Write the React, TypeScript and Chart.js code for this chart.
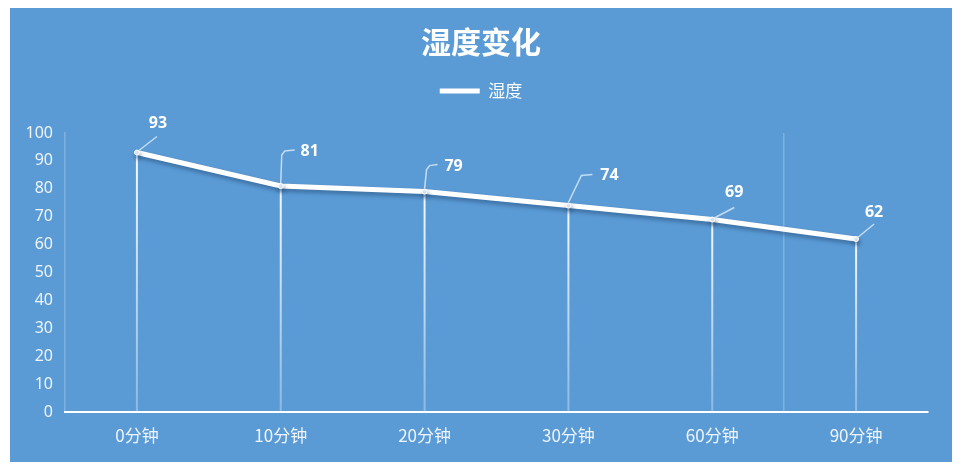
import { useEffect, useRef } from "react";
import { Chart, registerables, Plugin } from "chart.js";

Chart.register(...registerables);

// 数据
const categories: string[] = ["0分钟", "10分钟", "20分钟", "30分钟", "60分钟", "90分钟"];
const humidity: number[] = [93, 81, 79, 74, 69, 62];
const yTicks: number[] = [0, 10, 20, 30, 40, 50, 60, 70, 80, 90, 100];

const BG = "#5b9bd5";

// 数据标签相对数据点的偏移（像素）
const labelOffsets: [number, number][] = [
    [21, -29], [29, -35], [29, -25], [41, -30], [22, -27], [18, -27],
];
// 引导线折点（相对数据点）
const leaders: [number, number][][] = [
    [[2, -2], [20, -16]],
    [[0, -3], [1, -31], [4, -35], [14, -36]],
    [[0, -3], [2, -22], [5, -26], [13, -27]],
    [[0, -3], [13, -30], [24, -31]],
    [[1, -1], [22, -12]],
    [[1, -1], [18, -15]],
];

const decorPlugin: Plugin<"line"> = {
    id: "decor",
    beforeDatasetsDraw(chart) {
        const { ctx, chartArea } = chart;
        const meta = chart.getDatasetMeta(0);
        ctx.save();
        // 垂直线（数据点到横轴）
        meta.data.forEach((pt) => {
            const g = ctx.createLinearGradient(0, pt.y, 0, chartArea.bottom);
            g.addColorStop(0, "rgba(255,255,255,0.95)");
            g.addColorStop(1, "rgba(255,255,255,0.3)");
            ctx.strokeStyle = g;
            ctx.lineWidth = 2;
            ctx.beginPath();
            ctx.moveTo(pt.x, pt.y);
            ctx.lineTo(pt.x, chartArea.bottom);
            ctx.stroke();
        });
        ctx.restore();
        // 折线阴影
        ctx.save();
        ctx.shadowColor = "rgba(20,50,90,0.45)";
        ctx.shadowBlur = 4;
        ctx.shadowOffsetX = 1;
        ctx.shadowOffsetY = 3;
    },
    afterDatasetsDraw(chart) {
        const { ctx } = chart;
        ctx.restore();
        const meta = chart.getDatasetMeta(0);
        ctx.save();
        ctx.strokeStyle = "rgba(215,232,250,0.85)";
        ctx.lineWidth = 1.5;
        meta.data.forEach((pt, i) => {
            const path = leaders[i];
            ctx.beginPath();
            path.forEach(([dx, dy], k) => {
                if (k === 0) ctx.moveTo(pt.x + dx, pt.y + dy);
                else ctx.lineTo(pt.x + dx, pt.y + dy);
            });
            ctx.stroke();
        });
        ctx.fillStyle = "#ffffff";
        ctx.font = "bold 16px 'Open Sans'";
        ctx.textAlign = "center";
        ctx.textBaseline = "middle";
        meta.data.forEach((pt, i) => {
            const [dx, dy] = labelOffsets[i];
            ctx.fillText(String(humidity[i]), pt.x + dx, pt.y + dy);
        });
        ctx.restore();
    },
};

export default function App() {
    const canvasRef = useRef<HTMLCanvasElement | null>(null);

    useEffect(() => {
        const canvas = canvasRef.current;
        if (!canvas) return;
        Chart.defaults.font.family = "'Noto Sans', 'Noto Sans CJK SC', sans-serif";

        const chart = new Chart(canvas, {
            type: "line",
            data: {
                labels: categories,
                datasets: [
                    {
                        label: "湿度",
                        data: humidity,
                        borderColor: "#ffffff",
                        backgroundColor: "#ffffff",
                        borderWidth: 5,
                        tension: 0,
                        pointRadius: 2.5,
                        pointBackgroundColor: "#e6f0fa",
                        pointBorderColor: "#ffffff",
                        pointBorderWidth: 1,
                    },
                ],
            },
            options: {
                animation: false,
                responsive: true,
                maintainAspectRatio: false,
                layout: { padding: 0 },
                plugins: {
                    title: {
                        display: true,
                        text: "湿度变化",
                        color: "#ffffff",
                        font: { size: 30, weight: "bold", family: "'Noto Sans CJK SC'" },
                        padding: { top: 16, bottom: 12.5 },
                    },
                    legend: {
                        display: true,
                        labels: {
                            color: "#ffffff",
                            font: { size: 17, family: "'Noto Sans CJK SC'" },
                            boxWidth: 40,
                            boxHeight: 5,
                            padding: 10,
                            generateLabels: () => [
                                {
                                    text: "湿度",
                                    fillStyle: "#ffffff",
                                    strokeStyle: "#ffffff",
                                    lineWidth: 0,
                                    fontColor: "#ffffff",
                                    datasetIndex: 0,
                                },
                            ],
                        },
                    },
                    subtitle: {
                        display: true,
                        text: " ",
                        weight: 500,
                        font: { size: 10 },
                        padding: { top: 11.5, bottom: 0 },
                    } as any,
                    tooltip: { enabled: false },
                },
                scales: {
                    x: {
                        offset: true,
                        afterFit: (s) => {
                            s.height = 50;
                        },
                        grid: {
                            offset: true,
                            drawTicks: false,
                            color: (c) =>
                                c.index === 5 ? "rgba(255,255,255,0.22)" : "rgba(0,0,0,0)",
                            lineWidth: 1.5,
                        },
                        border: { display: true, color: "#ffffff", width: 2 },
                        ticks: {
                            color: "#eef4fb",
                            font: { size: 17, family: "'Noto Sans CJK SC'" },
                            padding: 13,
                        },
                    },
                    y: {
                        min: 0,
                        max: 100,
                        afterFit: (s) => {
                            s.width = 55;
                        },
                        afterBuildTicks: (s) => {
                            s.ticks = yTicks.map((v) => ({ value: v }));
                        },
                        grid: { display: false, drawTicks: false },
                        border: { display: true, color: "rgba(255,255,255,0.22)", width: 1.5 },
                        ticks: {
                            color: "#eef4fb",
                            font: { size: 16 },
                            padding: 12,
                        },
                    },
                    // 右侧留白
                    yRight: {
                        position: "right",
                        min: 0,
                        max: 100,
                        afterFit: (s) => {
                            s.width = 24;
                        },
                        grid: { display: false, drawTicks: false },
                        border: { display: false },
                        ticks: { display: false },
                    },
                },
            },
            plugins: [decorPlugin],
        });

        return () => {
            chart.destroy();
        };
    }, []);

    return (
        <div
            style={{
                position: "absolute",
                left: 10,
                top: 8,
                width: 942,
                height: 454,
                background: BG,
            }}
        >
            <canvas ref={canvasRef} />
        </div>
    );
}
